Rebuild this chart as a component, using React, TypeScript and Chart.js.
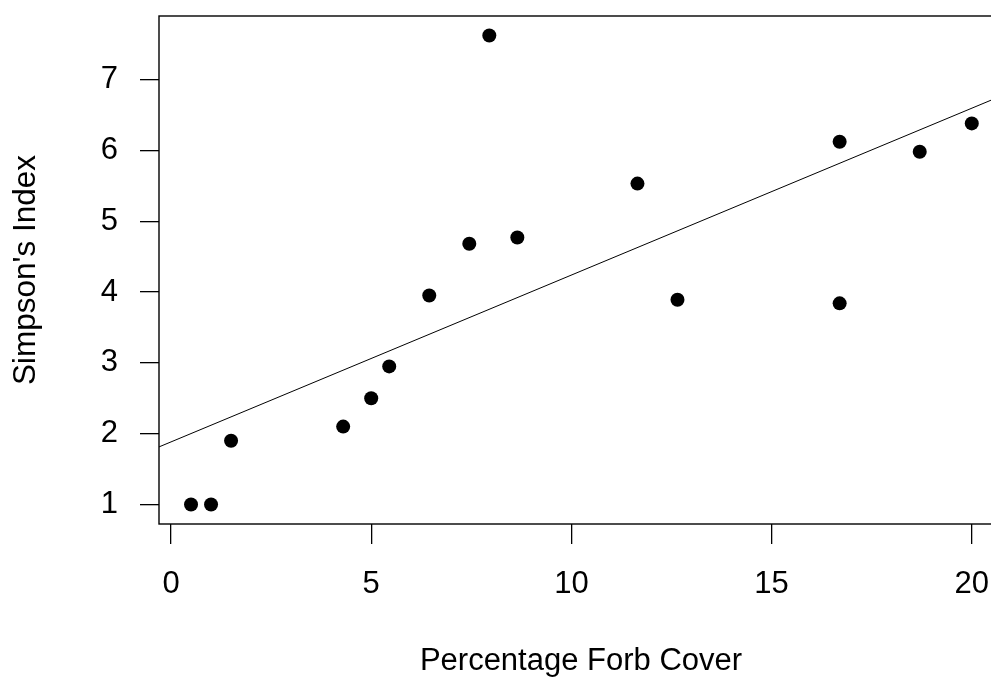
import React, { useEffect, useRef } from "react";
import { Chart, registerables } from "chart.js";

Chart.register(...registerables);

// Percentage forb cover (x) and Simpson's index (y) per plot
const forbCover: number[] = [0.5, 1.0, 1.5, 4.3, 5.0, 5.45, 6.45, 7.45, 7.95, 8.65, 11.65, 12.65, 16.7, 16.7, 18.7, 20.0];
const simpsonIndex: number[] = [1.0, 1.0, 1.9, 2.1, 2.5, 2.95, 3.95, 4.68, 7.62, 4.77, 5.53, 3.89, 6.12, 3.84, 5.98, 6.38];

const xTickValues: number[] = [0, 5, 10, 15, 20];
const yTickValues: number[] = [1, 2, 3, 4, 5, 6, 7];

const xAxisRange: number[] = [-0.3, 20.78];
const yAxisRange: number[] = [0.725, 7.896];

const xTitle = "Percentage Forb Cover";
const yTitle = "Simpson's Index";

function fitLine(xs: number[], ys: number[]) {
  const n = xs.length;
  const mx = xs.reduce((a, b) => a + b, 0) / n;
  const my = ys.reduce((a, b) => a + b, 0) / n;
  let sxy = 0;
  let sxx = 0;
  for (let i = 0; i < n; i++) {
    sxy += (xs[i] - mx) * (ys[i] - my);
    sxx += (xs[i] - mx) * (xs[i] - mx);
  }
  const slope = sxy / sxx;
  return { slope, intercept: my - slope * mx };
}

const FONT = "'Liberation Sans', Arial, sans-serif";

const boxPlugin = {
  id: "rbox",
  afterDatasetsDraw(chart: any) {
    const { ctx, chartArea } = chart;
    ctx.save();
    ctx.strokeStyle = "#000";
    ctx.lineWidth = 1.4;
    ctx.strokeRect(chartArea.left, chartArea.top, chartArea.right - chartArea.left, chartArea.bottom - chartArea.top);
    ctx.restore();
  },
};

export default function App() {
  const ref = useRef<HTMLCanvasElement | null>(null);

  useEffect(() => {
    if (!ref.current) return;
    const { slope, intercept } = fitLine(forbCover, simpsonIndex);
    const linePts = xAxisRange.map((x) => ({ x, y: intercept + slope * x }));
    const pts = forbCover.map((x, i) => ({ x, y: simpsonIndex[i] }));

    const chart = new Chart(ref.current, {
      type: "scatter",
      data: {
        datasets: [
          {
            data: pts,
            pointRadius: 7,
            pointHoverRadius: 7,
            pointBackgroundColor: "#000",
            pointBorderWidth: 0,
            showLine: false,
          },
          {
            data: linePts,
            showLine: true,
            borderColor: "#000",
            borderWidth: 1,
            pointRadius: 0,
            fill: false,
          },
        ],
      },
      options: {
        responsive: false,
        animation: false,
        devicePixelRatio: 1,
        layout: { padding: { top: 16, left: 0, right: 0, bottom: 0 } },
        plugins: { legend: { display: false }, tooltip: { enabled: false } },
        scales: {
          x: {
            type: "linear",
            min: xAxisRange[0],
            max: xAxisRange[1],
            afterFit(scale: any) {
              scale.height = 153;
              scale.paddingLeft = 0;
              scale.paddingRight = 0;
            },
            afterBuildTicks(scale: any) {
              scale.ticks = xTickValues.map((v) => ({ value: v }));
            },
            border: { display: false },
            grid: { display: true, drawOnChartArea: false, drawTicks: true, tickLength: 20, color: "#000", lineWidth: 1.3 },
            ticks: {
              includeBounds: false,
              padding: 22,
              color: "#000",
              font: { family: FONT, size: 31 },
              maxRotation: 0,
              autoSkip: false,
            },
            title: {
              display: true,
              text: xTitle,
              color: "#000",
              font: { family: FONT, size: 31, lineHeight: 1 },
              padding: { top: 0, bottom: 0 },
            },
          },
          y: {
            type: "linear",
            min: yAxisRange[0],
            max: yAxisRange[1],
            afterFit(scale: any) {
              scale.width = 159;
              scale.paddingTop = 0;
              scale.paddingBottom = 0;
            },
            afterBuildTicks(scale: any) {
              scale.ticks = yTickValues.map((v) => ({ value: v }));
            },
            border: { display: false },
            grid: { display: true, drawOnChartArea: false, drawTicks: true, tickLength: 19, color: "#000", lineWidth: 1.3 },
            ticks: {
              includeBounds: false,
              padding: 22,
              color: "#000",
              font: { family: FONT, size: 31 },
              autoSkip: false,
            },
            title: {
              display: true,
              text: yTitle,
              color: "#000",
              font: { family: FONT, size: 31.5, lineHeight: 1.2 },
              padding: { top: 7.5, bottom: 0 },
            },
          },
        },
      },
      plugins: [boxPlugin],
    });
    return () => chart.destroy();
  }, []);

  return (
    <div style={{ position: "fixed", left: 0, top: 0, width: 991, height: 677, overflow: "hidden", background: "#fff" }}>
      <canvas ref={ref} width={1010} height={677} style={{ display: "block", width: 1010, height: 677 }} />
    </div>
  );
}
